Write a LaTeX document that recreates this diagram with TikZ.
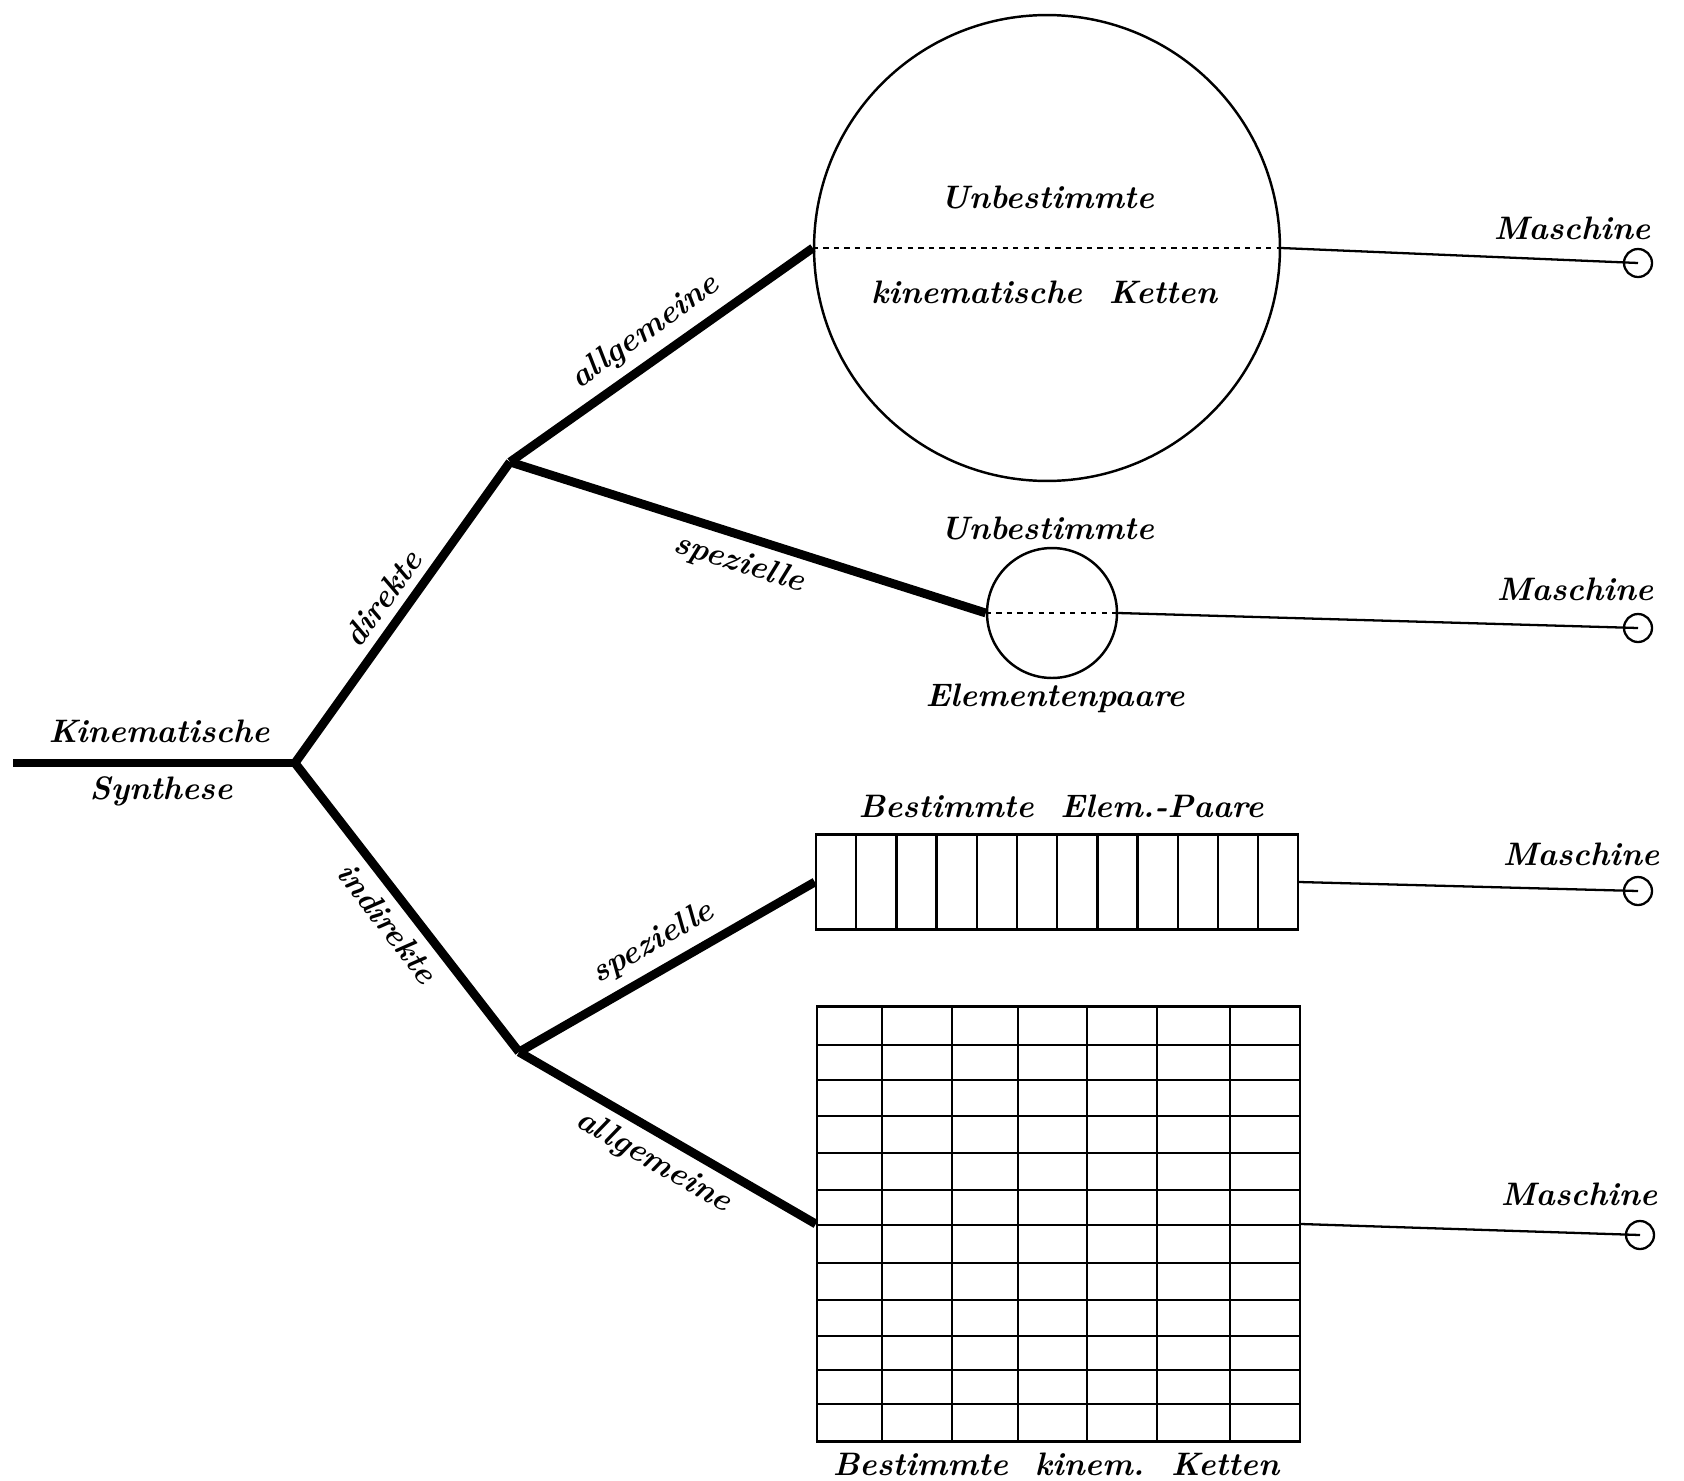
\documentclass[tikz,border=0pt]{standalone}
\begin{document}
\begin{tikzpicture}[x=0.02cm,y=-0.02cm,
  branch/.style={line width=5pt},
  thinline/.style={line width=1.3pt},
  lbl/.style={font=\fontsize{18.5}{22}\selectfont\bfseries\itshape,inner sep=1pt},
  ring/.style={circle,draw,line width=1.4pt,inner sep=0pt},
  endring/.style={circle,draw,line width=1.3pt,inner sep=0pt,minimum size=0.56cm}]
 \useasboundingbox (0,0) rectangle (1684,1481);
 % stem and junctions
 \coordinate (start) at (13,763);
 \coordinate (root) at (295,763);
 \coordinate (dir) at (510,462);
 \coordinate (ind) at (519,1052);
 \node[lbl] (kin) at (159,731) {Kinematische};
 \node[lbl] (syn) at (161,791) {Synthese};
 % the four groups
 \node[ring,minimum size=9.32cm] (bigc) at (1047,248) {};
 \node[ring,minimum size=2.6cm] (smallc) at (1052,613) {};
 \node[draw,line width=1.4pt,minimum width=9.64cm,minimum height=1.9cm,inner sep=0pt] (strip) at (1057,882) {};
 \node[draw,line width=1.4pt,minimum width=9.66cm,minimum height=8.7cm,inner sep=0pt] (grid) at (1058.5,1224) {};
 \draw[thinline,dashed] (bigc.west) -- (bigc.east);
 \draw[thinline,dashed] (smallc.west) -- (smallc.east);
 \foreach \k in {1,...,11}
  \draw[line width=1.4pt] (816+40.2*\k,834.5) -- (816+40.2*\k,929.5);
 \foreach \x in {882,952,1018,1087,1157,1230}
  \draw[line width=1.4pt] (\x,1006.5) -- (\x,1441.5);
 \foreach \y in {1045,1080,1116,1153,1190,1225,1263,1300,1336,1370,1404}
  \draw[line width=1.4pt] (817,\y) -- (1300,\y);
 \node[lbl] (u1) at (1047,197) {Unbestimmte};
 \node[lbl] (kk) at (1044,292) {kinematische\ \ Ketten};
 \node[lbl] (u2) at (1047,528) {Unbestimmte};
 \node[lbl] (ep) at (1055,698) {Elementenpaare};
 \node[lbl] (bep) at (1061,806) {Bestimmte\ \ Elem.-Paare};
 \node[lbl] (bkk) at (1056,1464) {Bestimmte\ \ kinem.\ \ Ketten};
 % branches
 \draw[branch] (start) -- (root);
 \draw[branch] (root) -- node[lbl,sloped,above=4pt] {direkte} (dir);
 \draw[branch] (root) -- node[lbl,sloped,below=4pt] {indirekte} (ind);
 \draw[branch] (dir) -- node[lbl,sloped,above=4pt] {allgemeine} (bigc.west);
 \draw[branch] (dir) -- node[lbl,sloped,below=4pt] {spezielle} (smallc.west);
 \draw[branch] (ind) -- node[lbl,sloped,above=4pt] {spezielle} (strip.west);
 \draw[branch] (ind) -- node[lbl,sloped,below=4pt] {allgemeine} (grid.west);
 % machines
 \node[endring] (m1) at (1638,263) {};
 \node[endring] (m2) at (1638,628) {};
 \node[endring] (m3) at (1638,891) {};
 \node[endring] (m4) at (1640,1235) {};
 \draw[thinline] (bigc.east) -- (m1.center);
 \draw[thinline] (smallc.east) -- (m2.center);
 \draw[thinline] (strip.east) -- (m3.center);
 \draw[thinline] (grid.east) -- (m4.center);
 \node[lbl] (ma1) at (1572,228) {Maschine};
 \node[lbl] (ma2) at (1575,589) {Maschine};
 \node[lbl] (ma3) at (1581,854) {Maschine};
 \node[lbl] (ma4) at (1579,1194) {Maschine};
\end{tikzpicture}
\end{document}
